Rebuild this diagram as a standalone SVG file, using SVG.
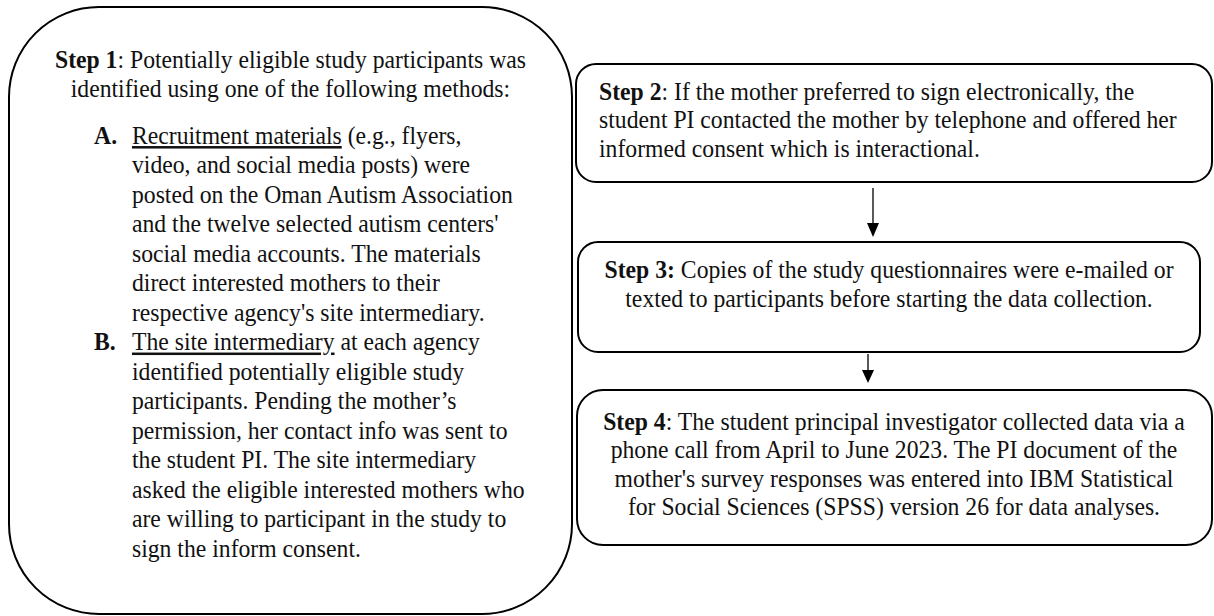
<svg xmlns="http://www.w3.org/2000/svg" width="1214" height="616" viewBox="0 0 1214 616">
  <style>
    .box { fill: #ffffff; stroke: #000000; stroke-width: 2; }
    .txt { font-family: "Liberation Serif", "Times New Roman", serif; font-size: 25px; fill: #111111; }
    .b { font-weight: bold; }
    .u { text-decoration: underline; }
    .mid { text-anchor: middle; }
    .edge { stroke: #000000; stroke-width: 1.3; fill: none; }
    .head { fill: #000000; }
  </style>
  <rect width="1214" height="616" fill="#ffffff"/>

  <!-- Step 1: recruitment methods (text is set slightly condensed: x values are divided by 0.948) -->
  <g id="step1">
    <rect class="box" x="9" y="7" width="563" height="607" rx="90" ry="90"/>
    <g transform="scale(0.948 1)">
      <text class="txt mid" x="306.4" y="68"><tspan class="b">Step 1</tspan>: Potentially eligible study participants was</text>
      <text class="txt mid" x="306.4" y="97.5">identified using one of the following methods:</text>
      <text class="txt b" x="99.2" y="144">A.</text>
      <text class="txt" x="139.2" y="144"><tspan class="u">Recruitment materials</tspan> (e.g., flyers,</text>
      <text class="txt" x="139.2" y="173.5">video, and social media posts) were</text>
      <text class="txt" x="139.2" y="203">posted on the Oman Autism Association</text>
      <text class="txt" x="139.2" y="232.5">and the twelve selected autism centers'</text>
      <text class="txt" x="139.2" y="262">social media accounts. The materials</text>
      <text class="txt" x="139.2" y="291.5">direct interested mothers to their</text>
      <text class="txt" x="139.2" y="321">respective agency's site intermediary.</text>
      <text class="txt b" x="99.2" y="350.5">B.</text>
      <text class="txt" x="139.2" y="350.5"><tspan class="u">The site intermediary</tspan> at each agency</text>
      <text class="txt" x="139.2" y="380">identified potentially eligible study</text>
      <text class="txt" x="139.2" y="409.5">participants. Pending the mother’s</text>
      <text class="txt" x="139.2" y="439">permission, her contact info was sent to</text>
      <text class="txt" x="139.2" y="468.5">the student PI. The site intermediary</text>
      <text class="txt" x="139.2" y="498">asked the eligible interested mothers who</text>
      <text class="txt" x="139.2" y="527.5">are willing to participant in the study to</text>
      <text class="txt" x="139.2" y="557">sign the inform consent.</text>
    </g>
  </g>

  <!-- Step 2: electronic consent -->
  <g id="step2">
    <rect class="box" x="576" y="64" width="636" height="118" rx="20" ry="20"/>
    <g transform="scale(0.948 1)">
      <text class="txt" x="631.9" y="100"><tspan class="b">Step 2</tspan>: If the mother preferred to sign electronically, the</text>
      <text class="txt" x="631.9" y="128.5">student PI contacted the mother by telephone and offered her</text>
      <text class="txt" x="631.9" y="157">informed consent which is interactional.</text>
    </g>
  </g>

  <!-- Step 3: questionnaires sent -->
  <g id="step3">
    <rect class="box" x="578" y="242" width="622" height="110" rx="20" ry="20"/>
    <g transform="scale(0.948 1)">
      <text class="txt mid" x="937.8" y="278"><tspan class="b">Step 3:</tspan> Copies of the study questionnaires were e-mailed or</text>
      <text class="txt mid" x="937.8" y="307">texted to participants before starting the data collection.</text>
    </g>
  </g>

  <!-- Step 4: data collection and entry -->
  <g id="step4">
    <rect class="box" x="577" y="390" width="635" height="155" rx="26" ry="26"/>
    <g transform="scale(0.948 1)">
      <text class="txt mid" x="943" y="430"><tspan class="b">Step 4</tspan>: The student principal investigator collected data via a</text>
      <text class="txt mid" x="943" y="458.5">phone call from April to June 2023. The PI document of the</text>
      <text class="txt mid" x="943" y="487">mother's survey responses was entered into IBM Statistical</text>
      <text class="txt mid" x="943" y="515.5">for Social Sciences (SPSS) version 26 for data analyses.</text>
    </g>
  </g>

  <!-- connectors -->
  <g id="connectors">
    <line class="edge" x1="873" y1="188" x2="873" y2="224"/>
    <path class="head" d="M867,223 L879,223 L873,237 Z"/>
    <line class="edge" x1="868" y1="354" x2="868" y2="371"/>
    <path class="head" d="M862,370 L874,370 L868,383 Z"/>
  </g>
</svg>
